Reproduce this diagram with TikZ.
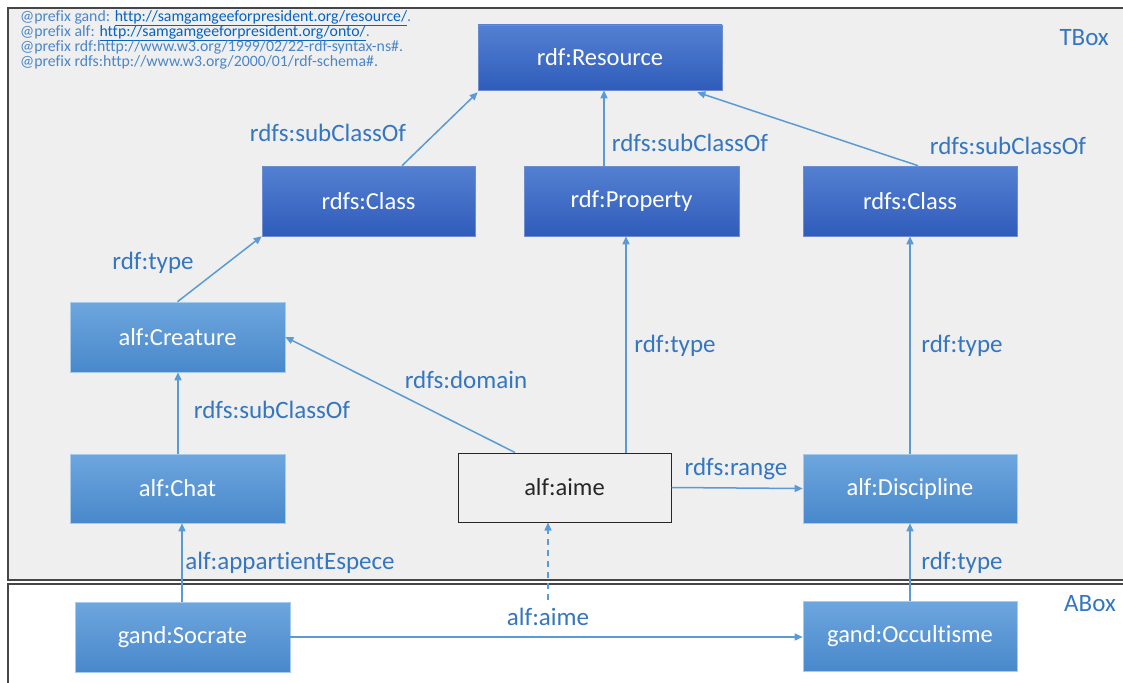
\documentclass[tikz,border=0pt]{standalone}
\usepackage{fontspec}
\setmainfont{Carlito}[Ligatures=NoCommon]
\usetikzlibrary{arrows.meta}
\definecolor{lbl}{RGB}{52,118,192}
\definecolor{pre}{RGB}{74,134,200}
\definecolor{lnk}{RGB}{5,99,193}
\definecolor{edge}{RGB}{91,155,213}
\definecolor{bg}{RGB}{239,239,239}
\definecolor{frm}{RGB}{70,70,70}
\definecolor{dtop}{RGB}{84,128,210}
\definecolor{dbot}{RGB}{47,92,186}
\definecolor{ltop}{RGB}{110,166,222}
\definecolor{lbot}{RGB}{72,136,203}
\tikzset{
  darkbox/.style={rectangle, top color=dtop, bottom color=dbot, draw=dbot!70!white, line width=0.6pt, text=white, font=\fontsize{24.5}{28}\selectfont, inner sep=0pt},
  lightbox/.style={rectangle, top color=ltop, bottom color=lbot, draw=ltop!60!white, line width=0.6pt, text=white, font=\fontsize{24.5}{28}\selectfont, inner sep=0pt},
  plainbox/.style={rectangle, fill=bg, draw=black!85, line width=1pt, text=black!85, font=\fontsize{24.5}{28}\selectfont, inner sep=0pt},
  conn/.style={draw=edge, line width=1.5pt, -{Triangle[length=8pt,width=7pt]}},
  dconn/.style={draw=edge, line width=1.5pt, dash pattern=on 6pt off 5pt, -{Triangle[length=8pt,width=7pt]}},
  elabel/.style={text=lbl, font=\fontsize{25}{28}\selectfont, inner sep=0pt},
  prefixtxt/.style={text=pre, font=\fontsize{15.8}{18}\selectfont, anchor=west, inner sep=0pt},
}
\begin{document}
\begin{tikzpicture}[x=1pt,y=-1pt]
\useasboundingbox (0,0) rectangle (1123,682);
\fill[white] (0,0) rectangle (1123,682);
% frames
\draw[frm, line width=1.8pt, fill=bg] (8,8) rectangle (1130,580);
\draw[frm, line width=1.8pt, fill=white] (8,584) rectangle (1130,690);
\node[elabel, anchor=east] (tbox) at (1109,38) {TBox};
\node[elabel, anchor=east] (abox) at (1116,604) {ABox};
% prefixes
\node[prefixtxt] (p1) at (20,18) {@prefix gand: \textcolor{lnk}{\underline{http://samgamgeeforpresident.org/resource/}}.};
\node[prefixtxt] (p2) at (20,33) {@prefix alf: \textcolor{lnk}{\underline{http://samgamgeeforpresident.org/onto/}}.};
\node[prefixtxt] (p3) at (20,47.5) {@prefix rdf:http://www.w3.org/1999/02/22-rdf-syntax-ns\#.};
\node[prefixtxt] (p4) at (20,62) {@prefix rdfs:http://www.w3.org/2000/01/rdf-schema\#.};
% nodes
\node[darkbox, minimum width=244pt, minimum height=65pt] (res) at (600,57.5) {rdf:Resource};
\node[darkbox, minimum width=213pt, minimum height=70pt] (clsL) at (368.5,201) {rdfs:Class};
\node[darkbox, minimum width=215pt, minimum height=70pt] (prop) at (631.5,201) {rdf:Property};
\node[darkbox, minimum width=214pt, minimum height=70pt] (clsR) at (910,201) {rdfs:Class};
\node[lightbox, minimum width=215pt, minimum height=70pt] (crea) at (177.5,337) {alf:Creature};
\node[lightbox, minimum width=215pt, minimum height=69pt] (chat) at (177.5,488.5) {alf:Chat};
\node[plainbox, minimum width=213pt, minimum height=69pt] (aime) at (564.5,487.5) {alf:aime};
\node[lightbox, minimum width=214pt, minimum height=69pt] (disc) at (910,488.5) {alf:Discipline};
\node[lightbox, minimum width=215pt, minimum height=70pt] (soc) at (182.5,637) {gand:Socrate};
\node[lightbox, minimum width=214pt, minimum height=70pt] (occ) at (910,636) {gand:Occultisme};
% connectors
\draw[conn] ([xshift=33.5pt]clsL.north) -- ([yshift=-2pt]res.south west);
\draw[conn] ([xshift=-27.5pt]prop.north) -- ([xshift=-27.5pt]prop.north |- res.south);
\draw[conn] ([xshift=8pt]clsR.north) -- ([xshift=-25pt,yshift=-2pt]res.south east);
\draw[conn] (crea.north) -- (clsL.south west);
\draw[conn] ([xshift=-49.5pt]aime.north) -- (crea.east);
\draw[conn] ([xshift=61.5pt]aime.north) -- ([xshift=61.5pt]aime.north |- prop.south);
\draw[conn] (disc.north) -- (clsR.south);
\draw[conn] ([xshift=0.5pt]chat.north) -- ([xshift=0.5pt]chat.north |- crea.south);
\draw[conn] (aime.east) -- (disc.west);
\draw[conn] ([xshift=-0.5pt]soc.north) -- ([xshift=-0.5pt]soc.north |- chat.south);
\coordinate (dstart) at (548,600);
\draw[dconn] (dstart) -- (dstart |- aime.south);
\draw[conn] (occ.north) -- (disc.south);
\draw[conn] (soc.east) -- (soc.east -| occ.west);
% labels
\node[elabel] (l1) at (328,133) {rdfs:subClassOf};
\node[elabel] (l2) at (690,143) {rdfs:subClassOf};
\node[elabel] (l3) at (1008,146) {rdfs:subClassOf};
\node[elabel] (l4) at (153,263) {rdf:type};
\node[elabel] (l5) at (466,380) {rdfs:domain};
\node[elabel] (l6) at (675,346) {rdf:type};
\node[elabel] (l7) at (962,346) {rdf:type};
\node[elabel] (l8) at (272,410) {rdfs:subClassOf};
\node[elabel] (l9) at (736,469) {rdfs:range};
\node[elabel] (l10) at (290,563) {alf:appartientEspece};
\node[elabel] (l11) at (548,617) {alf:aime};
\node[elabel] (l12) at (962,563) {rdf:type};
\end{tikzpicture}
\end{document}
